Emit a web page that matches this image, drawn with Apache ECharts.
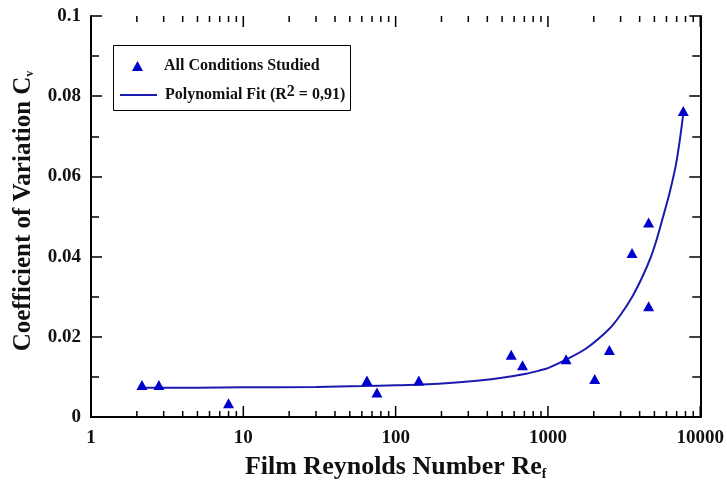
<!DOCTYPE html>
<html><head><meta charset="utf-8">
<script src="https://cdn.jsdelivr.net/npm/echarts@6/dist/echarts.min.js"></script>
<style>html,body{margin:0;padding:0;background:#fff}#c{width:727px;height:486px}</style>
</head><body><div id="c"></div>
<script>
// Measured data points: [Re_f, Cv]
const measuredRe = [2.16, 2.79, 8.0, 64.8, 75.4, 142, 574, 681, 1316, 2028, 2532, 3565, 4582, 4582, 7737];
const measuredCv = [0.0080, 0.0080, 0.0034, 0.0091, 0.0061, 0.0091, 0.0155, 0.0129, 0.0144, 0.0095, 0.0167, 0.0409, 0.0276, 0.0485, 0.0763];
// Polynomial fit curve
const fitRe = [2.1, 5, 10, 30, 60, 100, 150, 250, 355, 500, 720, 880, 1000, 1316, 1800, 2532, 3000, 3600, 4186, 4750, 5200, 5660, 6300, 6930, 7400, 7740];
const fitCv = [0.0073, 0.0073, 0.0074, 0.0075, 0.0077, 0.0079, 0.0081, 0.0086, 0.0091, 0.0098, 0.0108, 0.0116, 0.0122, 0.0143, 0.0172, 0.0220, 0.0255, 0.0302, 0.0351, 0.0400, 0.0445, 0.0495, 0.0560, 0.0630, 0.0700, 0.0757];
// Axis decoration (x tick positions)
const majorTicksX = [1, 10, 100, 1000, 10000];
const minorTicksX = [2,3,4,5,6,7,8,9,20,30,40,50,60,70,80,90,200,300,400,500,600,700,800,900,2000,3000,4000,5000,6000,7000,8000,9000];
const seriesNames = ['All Conditions Studied', 'Polynomial Fit'];

const FONT = '"Liberation Serif", "Times New Roman", serif';
const BLUE = '#0000cc';
const LINE = '#1a1ab0';

const chart = echarts.init(document.getElementById('c'), null, {renderer: 'canvas'});
const axisLine = {show: true, lineStyle: {color: '#000', width: 2}};
const tickData = majorTicksX.map(v => [v, 11]).concat(minorTicksX.map(v => [v, 6]));
const option = {
  animation: false,
  backgroundColor: '#fff',
  grid: {left: 91, top: 16, right: 26, bottom: 63, containLabel: false},
  xAxis: [{
    type: 'log', logBase: 10, min: 1, max: 10000, position: 'bottom',
    axisLine, splitLine: {show: false}, axisTick: {show: false},
    axisLabel: {fontFamily: FONT, fontWeight: 'bold', fontSize: 19, color: '#111', margin: 12,
      formatter: v => String(Math.round(v))},
    name: '{m|Film Reynolds Number Re}{s|f}',
    nameLocation: 'middle', nameGap: 37,
    nameTextStyle: {rich: {
      m: {fontFamily: FONT, fontWeight: 'bold', fontSize: 26, color: '#111'},
      s: {fontFamily: FONT, fontWeight: 'bold', fontSize: 14, color: '#111', padding: [13, 0, 0, 0]}
    }}
  }, {
    type: 'log', logBase: 10, min: 1, max: 10000, position: 'top',
    axisLine, splitLine: {show: false}, axisTick: {show: false},
    axisLabel: {show: false}
  }],
  yAxis: [{
    type: 'value', min: 0, max: 0.1, interval: 0.02, position: 'left',
    axisLine, splitLine: {show: false},
    axisTick: {show: true, inside: true, length: 11, lineStyle: {color: '#000', width: 1.5}},
    minorTick: {show: true, splitNumber: 2, length: 8, lineStyle: {color: '#000', width: 1.5}},
    axisLabel: {fontFamily: FONT, fontWeight: 'bold', fontSize: 19, color: '#111', margin: 10,
      formatter: v => v === 0 ? '0' : String(+v.toFixed(2))}
  }, {
    type: 'value', min: 0, max: 0.1, interval: 0.02, position: 'right',
    axisLine, splitLine: {show: false},
    axisTick: {show: true, inside: true, length: 11, lineStyle: {color: '#000', width: 1.5}},
    minorTick: {show: true, splitNumber: 2, length: 8, lineStyle: {color: '#000', width: 1.5}},
    axisLabel: {show: false}
  }],
  legend: [{
    data: [seriesNames[0]], left: 132, top: 58, orient: 'vertical',
    itemWidth: 11, itemHeight: 10, padding: 0,
    textStyle: {fontFamily: FONT, fontWeight: 'bold', fontSize: 16, color: '#111', padding: [0, 0, 0, 16]}
  }, {
    data: [{name: seriesNames[1], icon: 'rect'}], left: 120, top: 84, orient: 'vertical',
    itemWidth: 37, itemHeight: 2, padding: 0,
    itemStyle: {color: LINE},
    formatter: () => '{t|Polynomial Fit (R}{p|2}{t| = 0,91)}',
    textStyle: {color: '#111', padding: [0, 0, 0, 3], rich: {
      t: {fontFamily: FONT, fontWeight: 'bold', fontSize: 16, color: '#111'},
      p: {fontFamily: FONT, fontWeight: 'bold', fontSize: 16, color: '#111', padding: [0, 0, 6, 0]}
    }}
  }],
  graphic: [{
    type: 'rect', shape: {x: 113.5, y: 45.5, width: 237, height: 65},
    style: {fill: 'none', stroke: '#000', lineWidth: 1}, z: 100
  }, {
    type: 'text', x: 24, y: 211, rotation: Math.PI / 2,
    style: {
      text: '{m|Coefficient of Variation C}{s|v}',
      align: 'center', verticalAlign: 'middle',
      rich: {
        m: {fontFamily: FONT, fontWeight: 'bold', fontSize: 25, fill: '#111'},
        s: {fontFamily: FONT, fontWeight: 'bold', fontSize: 12, fill: '#111', padding: [12, 0, 0, 0]}
      }
    }, z: 100
  }],
  series: [{
    name: seriesNames[0], type: 'scatter', symbol: 'triangle', symbolSize: [11, 10],
    itemStyle: {color: BLUE, opacity: 1}, z: 5,
    data: measuredRe.map((r, i) => [r, measuredCv[i]])
  }, {
    name: seriesNames[1], type: 'line', showSymbol: false, symbol: 'none',
    smooth: 0.3,
    lineStyle: {color: LINE, width: 2}, itemStyle: {color: LINE}, z: 4,
    data: fitRe.map((r, i) => [r, fitCv[i]])
  }, {
    type: 'custom', name: 'xTicks', silent: true, z: 6,
    data: tickData,
    renderItem: (params, api) => {
      const x = api.value(0);
      const len = api.value(1);
      const b = api.coord([x, 0]);
      const t = api.coord([x, 0.1]);
      const st = {stroke: '#000', lineWidth: 1.5};
      return {type: 'group', children: [
        {type: 'line', shape: {x1: b[0], y1: b[1], x2: b[0], y2: b[1] - len}, style: st},
        {type: 'line', shape: {x1: t[0], y1: t[1], x2: t[0], y2: t[1] + len}, style: st}
      ]};
    }
  }]
};
chart.setOption(option);
</script>
</body></html>
